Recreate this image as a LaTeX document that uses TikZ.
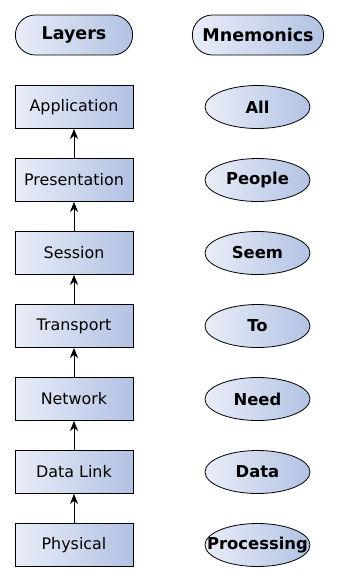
\documentclass[tikz,border=0pt]{standalone}
\usepackage{fontspec}
\setmainfont{DejaVu Sans}
\usetikzlibrary{arrows.meta,shapes.geometric,shapes.misc}
\definecolor{osilight}{HTML}{E9EDF8}
\definecolor{osidark}{HTML}{B2C2E3}
\newcommand{\mword}[1]{\makebox[0pt]{#1}}
\tikzset{
  heading/.style={rounded rectangle,draw=black,line width=.8pt,left color=osilight,right color=osidark,minimum height=40pt,font=\fontsize{17.5}{20}\selectfont\bfseries},
  layer/.style={rectangle,draw=black,line width=.8pt,left color=osilight,right color=osidark,minimum width=118pt,minimum height=43pt,font=\fontsize{15.9}{18}\selectfont},
  mnem/.style={ellipse,draw=black,line width=.8pt,left color=osilight,right color=osidark,inner sep=0pt,minimum width=105pt,minimum height=43pt,font=\fontsize{16.4}{18}\selectfont\bfseries},
  up/.style={-{Stealth[length=10pt,width=8pt,inset=3pt]},line width=.9pt},
}
\begin{document}
\begin{tikzpicture}[x=1pt,y=-1pt]
  \useasboundingbox (0,0) rectangle (339,581);

  % ---- column headings ----
  \node[heading,minimum width=124pt] (hlayers) at (74,35) {Layers};
  \node[heading,minimum width=138pt] (hmnem) at (258,35) {Mnemonics};

  % ---- layers and their words ----
  \foreach \name/\word [count=\i] in {Application/All,Presentation/People,Session/Seem,Transport/To,Network/Need,Data Link/Data,Physical/Processing}{
    \node[layer] (l\i) at (74,{34+73*\i}) {\name};
    \node[mnem] (m\i) at (257.5,{34+73*\i}) {\mword{\word}};
  }
  \foreach \i/\j in {2/1,3/2,4/3,5/4,6/5,7/6}{ \draw[up] (l\i)--(l\j); }
\end{tikzpicture}
\end{document}
